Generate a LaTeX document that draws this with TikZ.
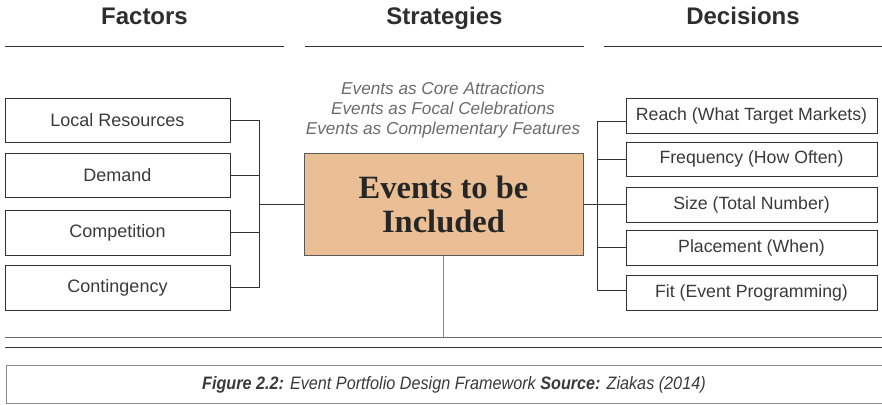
\documentclass[tikz,border=0pt]{standalone}
\usepackage{fontspec}
\setmainfont{Liberation Sans}
\newfontfamily\headserif{Liberation Serif}
\newfontfamily\capfont[FakeStretch=0.9]{Liberation Sans}
\definecolor{ink}{HTML}{333333}
\definecolor{txt}{HTML}{3A3A3A}
\definecolor{soft}{HTML}{6B6B6B}
\definecolor{tan}{HTML}{EBBF96}
\definecolor{frame}{HTML}{5A5A5A}
\definecolor{pale}{HTML}{8A8A8A}
\begin{document}
\begin{tikzpicture}[x=1pt,y=-1pt,
  rule/.style={draw=ink, line width=0.9pt},
  header/.style={anchor=base, text=ink!90!black, font=\bfseries\fontsize{24}{28}\selectfont},
  factor/.style={draw=ink, line width=0.9pt, minimum width=225pt, inner sep=0pt,
    text=txt, font=\fontsize{18}{21}\selectfont},
  decision/.style={draw=ink, line width=0.9pt, minimum width=251pt, minimum height=35pt, inner sep=0pt,
    text=txt, font=\fontsize{17.7}{21}\selectfont},
  core/.style={draw=frame, line width=1pt, fill=tan, minimum width=279pt, minimum height=102pt,
    inner sep=0pt, align=center, text=black!85,
    font=\headserif\bfseries\fontsize{32.5}{34}\selectfont}]
\useasboundingbox (0,0) rectangle (882,404);

% column headings and their rules
\node[header] (hF) at (144.5,25) {Factors};
\node[header] (hS) at (444.5,25) {Strategies};
\node[header] (hD) at (743,25) {Decisions};
\coordinate (uF1) at (5,46);   \coordinate (uF2) at (284,46);
\coordinate (uS1) at (305,46); \coordinate (uS2) at (584,46);
\coordinate (uD1) at (604,46); \coordinate (uD2) at (882,46);
\draw[rule] (uF1) -- (uF2);
\draw[rule] (uS1) -- (uS2);
\draw[rule] (uD1) -- (uD2);

% strategies
\node[align=center, text=soft, font=\itshape\fontsize{17.2}{20}\selectfont] (strat) at (443,110)
  {Events as Core Attractions\\Events as Focal Celebrations\\Events as Complementary Features};

% factors
\node[factor, minimum height=44pt] (lr)   at (117.5,120)   {Local Resources};
\node[factor, minimum height=44pt] (dem)  at (117.5,175)   {Demand};
\node[factor, minimum height=45pt] (comp) at (117.5,232.5) {Competition};
\node[factor, minimum height=45pt] (cont) at (117.5,287.5) {Contingency};

% central box
\node[core] (core) at (443.5,204) {Events to be\\Included};

% decisions
\node[decision] (reach) at (751.5,115.5) {Reach (What Target Markets)};
\node[decision, minimum height=34pt] (freq) at (751.5,159) {Frequency (How Often)};
\node[decision] (size)  at (751.5,204.5) {Size (Total Number)};
\node[decision] (place) at (751.5,247.5) {Placement (When)};
\node[decision] (fit)   at (751.5,292.5) {Fit (Event Programming)};

% left bracket
\coordinate (brL) at (259,205);
\draw[rule] (lr.east) -- (lr.east -| brL) -- (cont.east -| brL) -- (cont.east);
\draw[rule] (dem.east) -- (dem.east -| brL);
\draw[rule] (comp.east) -- (comp.east -| brL);
\draw[rule] (brL |- core.west) -- (core.west);

% right bracket
\coordinate (brR) at (597,205);
\draw[rule] ([yshift=-5.5pt]reach.west) -- ([yshift=-5.5pt]reach.west -| brR)
  -- ([yshift=2.5pt]fit.west -| brR) -- ([yshift=2.5pt]fit.west);
\draw[rule] (freq.west) -- (freq.west -| brR);
\draw[rule] (size.west) -- (size.west -| brR);
\draw[rule] (place.west) -- (place.west -| brR);
\draw[rule] (core.east) -- (core.east -| brR);

% base rules
\coordinate (gL) at (5,337);   \coordinate (gR) at (882,337);
\coordinate (dL) at (5,347);   \coordinate (dR) at (882,347);
\draw[draw=pale, line width=0.9pt] (core.south) -- (core.south |- gL);
\draw[draw=pale!80!black, line width=0.9pt] (gL) -- (gR);
\draw[rule] (dL) -- (dR);

% caption
\node[draw=pale, line width=0.8pt, anchor=north west, minimum width=876pt, minimum height=38pt,
  inner sep=0pt, text=txt, font=\capfont\itshape\fontsize{18}{21}\selectfont] (cap) at (5.5,365)
  {\hspace*{20pt}{\bfseries Figure 2.2:} Event Portfolio Design Framework {\bfseries Source:} Ziakas (2014)};
\end{tikzpicture}
\end{document}
